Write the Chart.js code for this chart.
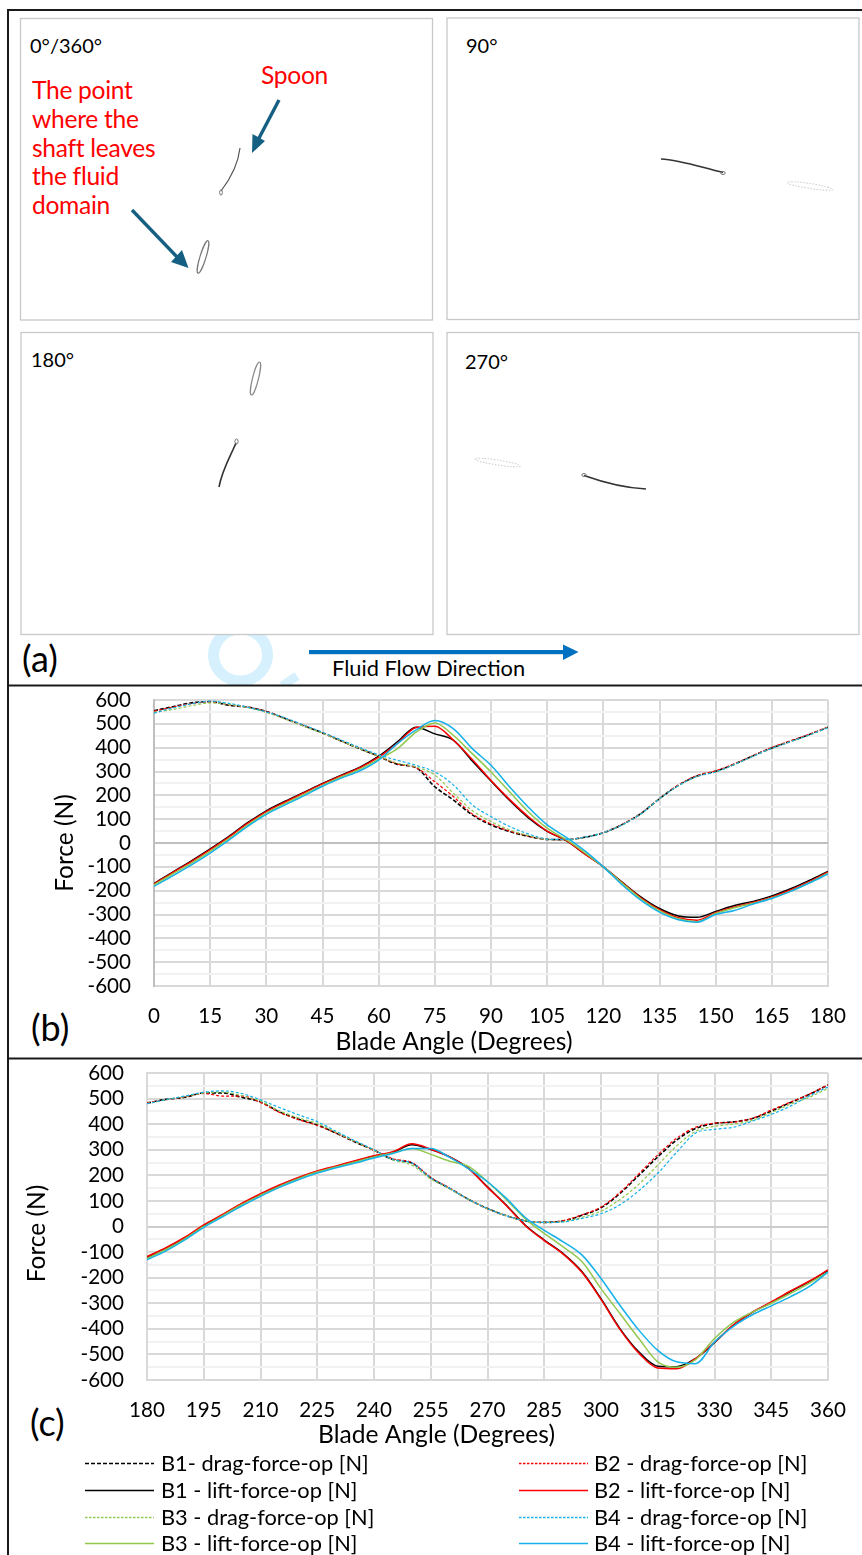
<!DOCTYPE html>
<html lang="en">
<head>
<meta charset="utf-8">
<title>Blade forces</title>
<script src="https://cdn.jsdelivr.net/npm/chart.js@4"></script>
<style>
html,body{margin:0;padding:0;background:#fff;}
body{position:relative;width:862px;height:1555px;overflow:hidden;font-family:Lato,"Open Sans",sans-serif;color:#000;}
svg.art{position:absolute;left:0;top:0;}
canvas{position:absolute;}
.t{position:absolute;white-space:nowrap;line-height:1;}
.red{font-size:24.6px;color:#f00;letter-spacing:-.3px;}
.ang{font-size:20px;}
.tag{font-size:36px;}
</style>
</head>
<body>
<svg class="art" id="art" width="862" height="1555" viewBox="0 0 862 1555">
  <!-- watermark -->
  <g fill="none" stroke="#d6f1fd">
    <ellipse cx="240.5" cy="655" rx="27" ry="26" stroke-width="11" transform="rotate(-5 240 655)"/>
    <path d="M282 686 L297 676" stroke-width="9"/>
  </g>
  <rect x="0" y="686" width="400" height="8" fill="#fff"/>
  <!-- frame -->
  <g stroke="#1a1a1a" stroke-width="2" fill="none">
    <path d="M8 1555 V10 H862"/>
    <path d="M8 685.5 H862"/>
    <path d="M8 1058.5 H862"/>
  </g>
  <!-- panels -->
  <g fill="#fff" stroke="#c8c8c8" stroke-width="1.3">
    <rect x="20.5" y="18.5" width="412" height="301.5"/>
    <rect x="447" y="18" width="412" height="301.5"/>
    <rect x="21" y="332.5" width="412" height="302"/>
    <rect x="447" y="332.5" width="412" height="302"/>
  </g>
  <!-- 0/360 -->
  <path d="M240 148 C238 165 231 178 221 191" fill="none" stroke="#555" stroke-width="1.2"/>
  <ellipse cx="221" cy="192.5" rx="1.4" ry="2.6" fill="none" stroke="#777" stroke-width="1"/>
  <ellipse cx="203" cy="257" rx="3" ry="17" fill="none" stroke="#777" stroke-width="1.2" transform="rotate(17 203 257)"/>
  <!-- 90 -->
  <path d="M661 159 C680 160 700 167 723 172.5" fill="none" stroke="#333" stroke-width="1.6"/>
  <ellipse cx="723" cy="173" rx="2.2" ry="1.5" fill="none" stroke="#777" stroke-width="1"/>
  <ellipse cx="810" cy="186" rx="23" ry="2.5" fill="none" stroke="#ccc" stroke-width="1" stroke-dasharray="1.5 1.5" transform="rotate(9 810 186)"/>
  <!-- 180 -->
  <ellipse cx="255.5" cy="378.5" rx="3" ry="17" fill="none" stroke="#888" stroke-width="1.2" transform="rotate(14 255.5 378.5)"/>
  <path d="M236 443 C231 455 222 470 219 487" fill="none" stroke="#333" stroke-width="1.6"/>
  <ellipse cx="236.5" cy="441.5" rx="1.6" ry="2.6" fill="none" stroke="#777" stroke-width="1"/>
  <!-- 270 -->
  <ellipse cx="497.5" cy="462.5" rx="23" ry="2.5" fill="none" stroke="#ccc" stroke-width="1" stroke-dasharray="1.5 1.5" transform="rotate(9 497.5 462.5)"/>
  <path d="M584 475.5 C605 483 625 488 646 489" fill="none" stroke="#333" stroke-width="1.6"/>
  <ellipse cx="584" cy="475" rx="2.2" ry="1.5" fill="none" stroke="#777" stroke-width="1"/>
  <!-- callout arrows -->
  <g stroke="#156082" stroke-width="3.4" fill="#156082">
    <path d="M279 100 L258 140" fill="none"/>
    <path d="M252 153 L252.5 134 L265 141 Z" stroke="none"/>
    <path d="M132 210 L178 258" fill="none"/>
    <path d="M188.5 268 L171 262 L182 250 Z" stroke="none"/>
  </g>
  <!-- flow arrow -->
  <rect x="309" y="650" width="256" height="4.2" fill="#0070c0"/>
  <path d="M563 644.5 L578.5 652 L563 660 Z" fill="#0070c0"/>
</svg>

<div class="t ang" style="left:30px;top:35px;">0°/360°</div>
<div class="t ang" style="left:466px;top:35px;">90°</div>
<div class="t ang" style="left:31px;top:349px;">180°</div>
<div class="t ang" style="left:465px;top:351px;">270°</div>
<div class="t red" style="left:261px;top:63px;">Spoon</div>
<div class="t red" style="left:32px;top:78px;">The point</div>
<div class="t red" style="left:32px;top:107px;">where the</div>
<div class="t red" style="left:32px;top:136px;">shaft leaves</div>
<div class="t red" style="left:32px;top:164px;">the fluid</div>
<div class="t red" style="left:32px;top:193px;">domain</div>
<div class="t" style="left:332px;top:657px;font-size:21.8px;">Fluid Flow Direction</div>
<div class="t tag" style="left:22px;top:640px;">(a)</div>
<div class="t tag" style="left:31px;top:1009px;">(b)</div>
<div class="t tag" style="left:30px;top:1404px;">(c)</div>

<canvas id="chartB" width="852" height="370" style="left:10px;top:687px;width:852px;height:370px;"></canvas>
<canvas id="chartC" width="852" height="392" style="left:10px;top:1060px;width:852px;height:392px;"></canvas>
<div id="legend"></div>

<script>
const anglesB = [0,5,10,15,20,25,30,35,40,45,50,55,60,65,70,75,80,85,90,95,100,105,110,115,120,125,130,135,140,145,150,155,160,165,170,175,180];
const anglesC = [180,185,190,195,200,205,210,215,220,225,230,235,240,245,250,255,260,265,270,275,280,285,290,295,300,305,310,315,320,325,330,335,340,345,350,355,360];

const b1Drag = [555,572,588,593,578,570,552,522,492,462,428,395,364,330,316,236,180,118,76,48,28,15,14,24,43,77,123,186,242,281,301,331,366,399,427,455,486];
const b1Lift = [-170,-122,-75,-25,28,85,135,175,212,250,285,318,364,424,486,458,431,344,260,178,105,49,11,-45,-100,-164,-226,-275,-306,-312,-287,-262,-245,-222,-192,-157,-119];
const b2Drag = [553,570,585,592,580,570,552,522,493,462,428,396,364,332,316,257,194,122,80,50,29,15,14,24,43,78,124,187,243,283,303,332,367,401,429,456,487];
const b2Lift = [-172,-124,-78,-28,25,82,132,172,210,248,282,316,360,418,485,490,431,350,262,182,110,50,12,-46,-100,-166,-230,-280,-314,-324,-292,-268,-250,-227,-197,-162,-122];
const b3Drag = [548,560,576,588,582,568,548,520,490,460,428,395,364,335,319,285,208,136,90,55,31,15,14,24,43,76,122,186,240,279,298,329,364,397,425,453,484];
const b3Lift = [-176,-130,-84,-35,18,75,125,165,204,242,277,310,352,396,465,504,451,375,298,214,130,62,15,-40,-100,-168,-234,-284,-318,-330,-296,-272,-253,-231,-202,-167,-127];
const b4Drag = [545,566,584,595,586,570,550,525,495,465,432,400,370,347,326,298,243,160,111,69,38,17,15,24,43,76,122,186,240,279,298,329,364,397,425,453,484];
const b4Lift = [-182,-138,-92,-42,12,70,120,160,198,238,272,303,348,417,475,514,479,396,326,235,150,76,25,-32,-100,-175,-240,-290,-322,-332,-300,-283,-256,-233,-203,-168,-130];

const c1Drag = [482,497,505,522,522,505,487,448,420,397,365,330,298,262,248,190,149,106,70,42,22,16,22,44,73,129,200,272,338,383,403,409,422,451,484,516,553];
const c1Lift = [-120,-85,-45,3,45,88,125,160,190,215,235,255,275,290,320,301,272,227,155,83,5,-53,-106,-177,-282,-399,-490,-546,-548,-516,-454,-386,-336,-297,-255,-216,-172];
const c2Drag = [484,495,507,520,510,510,485,446,418,395,365,332,298,265,250,192,150,106,70,42,22,16,23,46,76,133,206,280,345,388,404,408,423,455,486,517,553];
const c2Lift = [-118,-83,-42,6,47,90,128,162,192,217,237,257,277,292,323,302,272,226,153,81,3,-55,-108,-180,-285,-402,-495,-553,-556,-516,-452,-384,-335,-295,-253,-214,-170];
const c3Drag = [480,495,508,522,525,512,490,452,425,402,368,332,298,260,240,186,147,106,70,42,22,16,19,36,60,105,165,240,315,372,392,400,415,445,478,505,540];
const c3Lift = [-125,-90,-48,0,42,85,122,157,187,213,233,252,272,287,305,282,255,235,175,105,30,-27,-80,-138,-243,-340,-438,-529,-550,-520,-438,-375,-335,-300,-262,-222,-178];
const c4Drag = [480,496,510,525,530,520,495,465,437,410,372,335,300,262,248,190,149,106,70,42,22,16,18,32,50,85,140,208,290,365,380,388,412,438,470,510,545];
const c4Lift = [-130,-95,-52,-3,38,80,118,153,183,209,230,248,268,285,305,305,270,225,175,110,35,-15,-60,-112,-203,-308,-405,-484,-529,-536,-451,-390,-345,-310,-275,-235,-178];

const seriesNames = ["B1- drag-force-op [N]","B1 - lift-force-op [N]","B2 - drag-force-op [N]","B2 - lift-force-op [N]","B3 - drag-force-op [N]","B3 - lift-force-op [N]","B4 - drag-force-op [N]","B4 - lift-force-op [N]"];
const seriesColors = ["#000000","#000000","#ff0000","#ff0000","#92c84f","#92c84f","#14b1ea","#14b1ea"];
const yTickLabels = [600,500,400,300,200,100,0,-100,-200,-300,-400,-500,-600];
const xTitle = "Blade Angle (Degrees)";
const yTitle = "Force (N)";

const FONT = "Lato";
function zeroPadding(s){ s.paddingTop = 0; s.paddingBottom = 0; s.paddingLeft = 0; s.paddingRight = 0; }
function makeSets(angles, lists){
  return lists.map((vals,i)=>({
    label: seriesNames[i],
    data: vals.map((v,j)=>({x:angles[j],y:v})),
    borderColor: seriesColors[i],
    borderWidth: i===0 ? 1.6 : (i%2===0 ? 1.2 : 1.5),
    borderDash: i===0 ? [4,2] : (i%2===0 ? [3,2] : []),
    order: lists.length - i,
    pointRadius: 0,
    cubicInterpolationMode: "monotone",
    fill: false
  }));
}
function makeChart(id, angles, lists, cfg){
  const shiftPlugin = {
    id: "titleShift",
    beforeDraw(chart){
      [["x",cfg.xShift,0],["y",0,cfg.yShift]].forEach(([k,dx,dy])=>{
        const s = chart.scales[k];
        if(s.__wrapped) return;
        const orig = s.drawTitle;
        s.drawTitle = function(){
          const c = this.ctx; c.save(); c.translate(dx,dy); orig.call(this); c.restore();
        };
        s.__wrapped = true;
      });
    }
  };
  return new Chart(document.getElementById(id), {
    type: "line",
    data: { datasets: makeSets(angles, lists) },
    plugins: [shiftPlugin],
    options: {
      responsive: false,
      animation: false,
      events: [],
      layout: { autoPadding:false, padding: { top: 13, right: 34, left: 0, bottom: 0 } },
      plugins: { legend: { display: false }, tooltip: { enabled: false } },
      scales: {
        x: {
          type: "linear", min: angles[0], max: angles[angles.length-1],
          afterFit(s){ s.height = cfg.xHeight; zeroPadding(s); },
          afterBuildTicks(s){ s.ticks = []; for(let v=angles[0]; v<=angles[angles.length-1]; v+=15) s.ticks.push({value:v}); },
          ticks: { autoSkip:false, maxRotation:0, minRotation:0, padding: cfg.xTickPad, color:"#000", font:{family:FONT,size:20.6} },
          grid: { color:"#d9d9d9", lineWidth:2, drawTicks:false, tickLength:0 },
          border: { color:"#d9d9d9", width:2 },
          title: { display:true, text:xTitle, color:"#000", font:{family:FONT,size:24.6}, padding:{top:0,bottom:cfg.xTitlePad} }
        },
        y: {
          min: -600, max: 600,
          afterFit(s){ s.width = cfg.yWidth; zeroPadding(s); },
          afterBuildTicks(s){ s.ticks = []; for(let v=600; v>=-600; v-=50) s.ticks.push({value:v}); },
          ticks: {
            autoSkip:false, padding:23, color:"#000", font:{family:FONT,size:20.6},
            callback(v){ return yTickLabels.includes(v) ? String(v) : ""; }
          },
          grid: {
            drawTicks:false, tickLength:0, lineWidth:2,
            color(c){ const v=c.tick.value; return v===0 ? cfg.zero : (v%100===0 ? "#d9d9d9" : "#f2f2f2"); }
          },
          border: { color:cfg.axis, width:2 },
          title: { display:true, text:yTitle, color:"#000", font:{family:FONT,size:24.5}, padding:{top:cfg.yTitlePad,bottom:0} }
        }
      }
    }
  });
}
makeChart("chartB", anglesB, [b1Drag,b1Lift,b2Drag,b2Lift,b3Drag,b3Lift,b4Drag,b4Lift],
  {yWidth:144,xHeight:71,xTickPad:18,xTitlePad:0,yTitlePad:40,xShift:-37,yShift:0,zero:"#bfbfbf",axis:"#bfbfbf"});
makeChart("chartC", anglesC, [c1Drag,c1Lift,c2Drag,c2Lift,c3Drag,c3Lift,c4Drag,c4Lift],
  {yWidth:137,xHeight:72,xTickPad:18,xTitlePad:2,yTitlePad:12,xShift:-51,yShift:7,zero:"#cccccc",axis:"#d9d9d9"});

// legend
const rowY = [1463,1490,1517,1543];
const lg = document.getElementById("legend");
const art = document.getElementById("art");
seriesNames.forEach((name,i)=>{
  const col = (i===2||i===3||i===6||i===7) ? 1 : 0;
  const row = [0,1,0,1,2,3,2,3][i];
  const lx = col ? 519 : 85, tx = col ? 594 : 161;
  const line = document.createElementNS("http://www.w3.org/2000/svg","line");
  line.setAttribute("x1",lx); line.setAttribute("x2",lx+69);
  line.setAttribute("y1",rowY[row]+.5); line.setAttribute("y2",rowY[row]+.5);
  line.setAttribute("stroke",seriesColors[i]);
  line.setAttribute("stroke-width", i===0 ? 1.6 : (i%2===0 ? 1.3 : 1.4));
  if(i%2===0) line.setAttribute("stroke-dasharray", i===0 ? "4 2" : "2.5 1.5");
  art.appendChild(line);
  const t = document.createElement("div");
  t.className = "t";
  t.textContent = name;
  t.style.cssText = `left:${tx}px;top:${rowY[row]-11}px;font-size:21.8px;`;
  lg.appendChild(t);
});
</script>
</body>
</html>
